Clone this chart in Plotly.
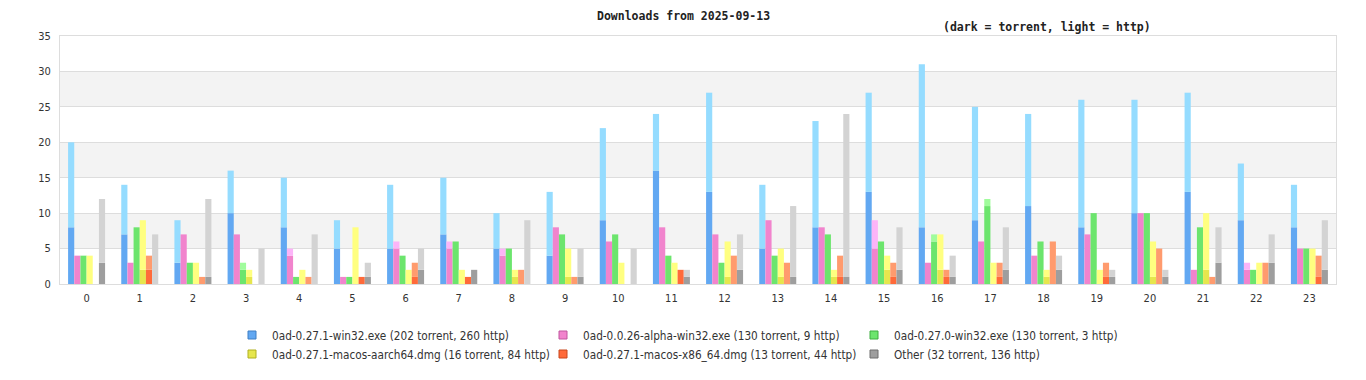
import plotly.graph_objects as go

hours = list(range(24))
hour_labels = [str(h) for h in hours]

series_names = [
    "0ad-0.27.1-win32.exe (202 torrent, 260 http)",
    "0ad-0.0.26-alpha-win32.exe (130 torrent, 9 http)",
    "0ad-0.27.0-win32.exe (130 torrent, 3 http)",
    "0ad-0.27.1-macos-aarch64.dmg (16 torrent, 84 http)",
    "0ad-0.27.1-macos-x86_64.dmg (13 torrent, 44 http)",
    "Other (32 torrent, 136 http)",
]

win32_torrent = [8, 7, 3, 10, 8, 5, 5, 7, 5, 4, 9, 16, 13, 5, 8, 13, 8, 9, 11, 8, 10, 13, 9, 8]
win32_http = [12, 7, 6, 6, 7, 4, 9, 8, 5, 9, 13, 8, 14, 9, 15, 14, 23, 16, 13, 18, 16, 14, 8, 6]

alpha_torrent = [4, 3, 7, 7, 4, 1, 5, 5, 4, 8, 6, 8, 7, 9, 8, 5, 3, 6, 4, 7, 10, 2, 2, 5]
alpha_http = [0, 0, 0, 0, 1, 0, 1, 1, 1, 0, 0, 0, 0, 0, 0, 4, 0, 0, 0, 0, 0, 0, 1, 0]

w270_torrent = [4, 8, 3, 2, 1, 1, 4, 6, 5, 7, 7, 4, 3, 4, 7, 6, 6, 11, 6, 10, 10, 8, 2, 5]
w270_http = [0, 0, 0, 1, 0, 0, 0, 0, 0, 0, 0, 0, 0, 0, 0, 0, 1, 1, 0, 0, 0, 0, 0, 0]

aarch_torrent = [0, 2, 0, 1, 0, 0, 0, 0, 1, 1, 0, 0, 1, 1, 1, 2, 2, 0, 1, 0, 1, 2, 0, 0]
aarch_http = [4, 7, 3, 1, 2, 8, 2, 2, 1, 4, 3, 3, 5, 4, 1, 2, 5, 3, 1, 2, 5, 8, 3, 5]

x86_torrent = [0, 2, 0, 0, 0, 1, 1, 1, 0, 0, 0, 2, 0, 0, 1, 1, 1, 1, 0, 1, 0, 0, 0, 1]
x86_http = [0, 2, 1, 0, 1, 0, 2, 0, 2, 1, 0, 0, 4, 3, 3, 2, 1, 2, 6, 2, 5, 1, 3, 3]

other_torrent = [3, 0, 1, 0, 0, 1, 2, 2, 0, 1, 0, 1, 2, 1, 1, 2, 1, 2, 2, 1, 1, 3, 3, 2]
other_http = [9, 7, 11, 5, 7, 2, 3, 0, 9, 4, 5, 1, 5, 10, 23, 6, 3, 6, 2, 1, 1, 5, 4, 7]

torrent_data = [win32_torrent, alpha_torrent, w270_torrent, aarch_torrent, x86_torrent, other_torrent]
http_data = [win32_http, alpha_http, w270_http, aarch_http, x86_http, other_http]

dark_colors = ["#62a8f2", "#f184cd", "#6ce56d", "#e6e64d", "#ff6a3a", "#9e9e9e"]
light_colors = ["#95dcff", "#fcb4f8", "#a0fc9c", "#ffff80", "#ff9b6e", "#d3d3d3"]
border_colors = ["#3f7fc4", "#c0569f", "#3fae40", "#b0b020", "#c9471c", "#6e6e6e"]

FONT = "DejaVu Sans Condensed, DejaVu Sans, sans-serif"
MONO = "DejaVu Sans Mono, monospace"

# page body has an 8px default margin; figure is sized so the plot area lands at x 60..1336, y 36..284
PAGE_OFF = 8
ML, MT, MR, MB = 60 - PAGE_OFF, 36 - PAGE_OFF, 30, 96
W = 1366 - PAGE_OFF
H = 380 - PAGE_OFF
PLOT_H = H - MT - MB  # 248

fig = go.Figure()
for i in range(6):
    fig.add_trace(go.Bar(
        x=hours, y=torrent_data[i], offsetgroup=str(i),
        marker=dict(color=dark_colors[i], line=dict(width=0)),
        showlegend=False, hoverinfo="skip",
    ))
    fig.add_trace(go.Bar(
        x=hours, y=http_data[i], base=torrent_data[i], offsetgroup=str(i),
        marker=dict(color=light_colors[i], line=dict(width=0)),
        showlegend=False, hoverinfo="skip",
    ))

# legend entries
for i in range(6):
    fig.add_trace(go.Scatter(
        x=[None], y=[None], mode="markers", name=series_names[i],
        marker=dict(symbol="square", size=8, color=dark_colors[i],
                    line=dict(width=1, color=border_colors[i])),
        legend="legend" if i < 3 else "legend2",
    ))

shapes = []
for lo in (5, 15, 25):
    shapes.append(dict(type="rect", xref="paper", yref="y", x0=0, x1=1, y0=lo, y1=lo + 5,
                       fillcolor="#f3f3f3", line=dict(width=0), layer="below"))

legend_common = dict(
    orientation="h", xanchor="left", yanchor="middle", x=(232 - 60) / 1276,
    entrywidth=266, entrywidthmode="pixels",
    font=dict(family=FONT, size=11.7, color="#333333"),
    bgcolor="rgba(0,0,0,0)", itemclick=False, itemdoubleclick=False,
)

fig.update_layout(
    width=W, height=H,
    margin=dict(l=ML, r=MR, t=MT, b=MB, autoexpand=False),
    paper_bgcolor="white", plot_bgcolor="white",
    barmode="group", bargap=0.304, bargroupgap=0,
    shapes=shapes,
    font=dict(family=FONT, size=11, color="#333333"),
    legend=dict(legend_common, y=(284 - 335) / PLOT_H),
    legend2=dict(legend_common, y=(284 - 354) / PLOT_H),
    annotations=[
        dict(text="<b>Downloads from 2025-09-13</b>", xref="paper", yref="paper", x=(683 - 60) / 1276,
             y=(284 - 8) / PLOT_H, xanchor="center", yanchor="top", showarrow=False, borderpad=0,
             font=dict(family=MONO, size=11.5, color="#222222")),
        dict(text="<b>(dark = torrent, light = http)</b>", xref="paper", yref="paper", x=(1047 - 60) / 1276,
             y=(284 - 27) / PLOT_H, xanchor="center", yanchor="middle", showarrow=False, borderpad=0,
             font=dict(family=MONO, size=11.5, color="#222222")),
    ],
    xaxis=dict(
        range=[-0.5, 23.5], tickmode="array", tickvals=hours, ticktext=hour_labels,
        showgrid=False, zeroline=False, showline=True, linecolor="#dddddd", mirror=True,
        ticks="", ticklabelstandoff=4, tickfont=dict(family=FONT, size=11, color="#333333"),
    ),
    yaxis=dict(
        range=[0, 35], dtick=5, showgrid=True, gridcolor="#dddddd", zeroline=False,
        showline=True, linecolor="#dddddd", mirror=True, ticks="", ticklabelstandoff=6,
        tickfont=dict(family=FONT, size=11, color="#333333"),
    ),
)

fig.write_html("out.html")
